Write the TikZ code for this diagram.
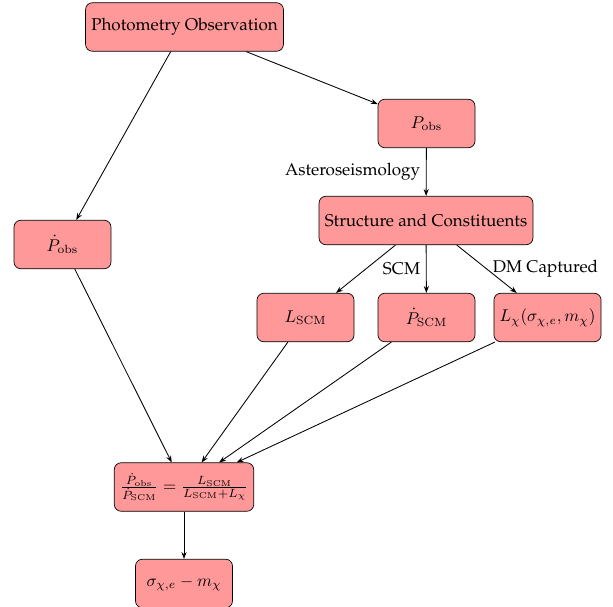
\documentclass[tikz,border=0pt]{standalone}
\usepackage[T1]{fontenc}
\usepackage{palatino}
\usetikzlibrary{arrows.meta}
\begin{document}
\begin{tikzpicture}[x=0.5867pt,y=-0.5867pt,
  box/.style={draw, rounded corners=4pt, fill=red!40, minimum width=2cm, minimum height=1cm, align=center},
  conn/.style={-{Stealth[length=4pt,width=3pt]}, line width=0.5pt}]
\useasboundingbox (0,0) rectangle (613,606);
\node[box] (photo) at (184.5,27) {Photometry Observation};
\node[box] (pobs) at (426.5,123.5) {$P_{\rm obs}$};
\node[box] (struct) at (426,220.5) {Structure and Constituents};
\node[box] (pdobs) at (62.5,244.5) {$\dot P_{\rm obs}$};
\node[box] (lscm) at (305.5,317.5) {$L_{\rm SCM}$};
\node[box] (pdscm) at (426.5,317.5) {$\dot P_{\rm SCM}$};
\node[box] (lchi) at (547.5,317.5) {$L_\chi(\sigma_{\chi,e},m_\chi)$};
\node[box] (eq) at (184,487) {$\frac{\dot P_{\rm obs}}{\dot P_{\rm SCM}}=\frac{L_{\rm SCM}}{L_{\rm SCM}+L_\chi}$};
\node[box] (sig) at (184,583.5) {$\sigma_{\chi,e}-m_\chi$};
\draw[conn] (photo) -- (pdobs);
\draw[conn] (photo) -- (pobs);
\draw[conn] (pobs) -- node[left] {Asteroseismology} (struct);
\draw[conn] (struct) -- (lscm);
\draw[conn] (struct) -- node[left] {SCM} (pdscm);
\draw[conn] (struct) -- node[right] {DM Captured} (lchi);
\draw[conn] (pdobs) -- (eq);
\draw[conn] (lscm) -- (eq);
\draw[conn] (pdscm) -- (eq);
\draw[conn] (lchi) -- (eq);
\draw[conn] (eq) -- (sig);
\end{tikzpicture}
\end{document}
